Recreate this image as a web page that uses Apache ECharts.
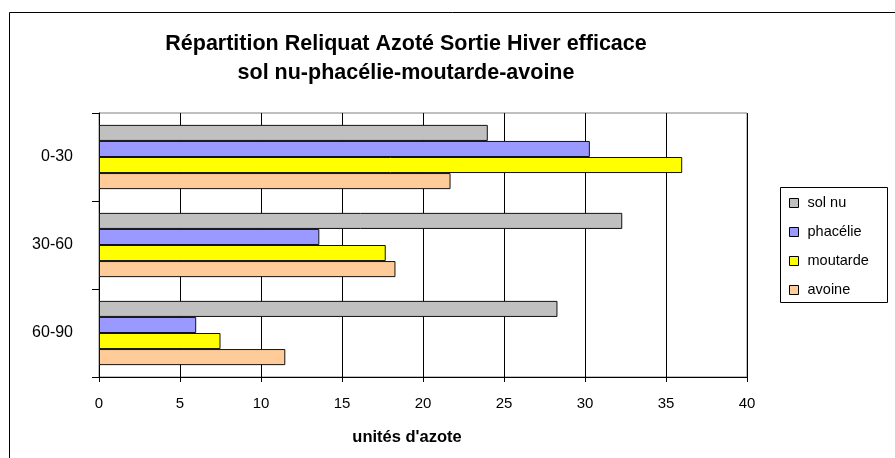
<!DOCTYPE html>
<html>
<head>
<meta charset="utf-8">
<script src="https://cdn.jsdelivr.net/npm/echarts@6/dist/echarts.min.js"></script>
<style>
  html, body { margin: 0; padding: 0; background: #fff; }
  #chart { width: 895px; height: 458px; }
</style>
</head>
<body>
<div id="chart"></div>
<script>
// profondeurs (cm)
const depths = ["0-30", "30-60", "60-90"];
// valeurs
const solNu = [24.0, 32.3, 28.3];
const phacelie = [30.3, 13.6, 6.0];
const moutarde = [36.0, 17.7, 7.5];
const avoine = [21.7, 18.3, 11.5];
const seriesNames = ["sol nu", "phacélie", "moutarde", "avoine"];
const xTicks = [0, 40, 5]; // min, max, interval

const colors = ["#C0C0C0", "#9999FF", "#FFFF00", "#FFCC99"];
const font = "'Liberation Sans', Arial, sans-serif";

const chart = echarts.init(document.getElementById("chart"));

const makeBar = (name, data, i) => ({
  name: name,
  type: "bar",
  data: data,
  barGap: "0%",
  barCategoryGap: "27%",
  itemStyle: { color: colors[i], borderColor: "#111", borderWidth: 1 },
  emphasis: { disabled: true }
});

chart.setOption({
  animation: false,
  textStyle: { fontFamily: font },
  title: {
    text: "Répartition Reliquat Azoté Sortie Hiver efficace\nsol nu-phacélie-moutarde-avoine",
    left: 406,
    top: 30,
    padding: 0,
    textAlign: "center",
    textStyle: { fontFamily: font, fontSize: 21.5, fontWeight: "bold", color: "#000", lineHeight: 29 }
  },
  legend: {
    orient: "vertical",
    left: 789,
    top: 195,
    padding: 0,
    itemWidth: 9,
    itemHeight: 9,
    itemGap: 13,
    icon: "rect",
    itemStyle: { borderColor: "#000", borderWidth: 1 },
    textStyle: { fontFamily: font, fontSize: 14.5, color: "#000", lineHeight: 16, padding: [0, 0, 0, 4] },
    data: seriesNames
  },
  grid: {
    left: 99,
    right: 148,
    top: 113,
    bottom: 81,
    show: true,
    borderColor: "#808080",
    borderWidth: 1
  },
  xAxis: {
    type: "value",
    min: xTicks[0],
    max: xTicks[1],
    interval: xTicks[2],
    name: "unités d'azote",
    nameLocation: "middle",
    nameGap: 52,
    nameTextStyle: { fontFamily: font, fontSize: 16.5, fontWeight: "bold", color: "#000", padding: [0, 32, 0, 0] },
    axisLine: { show: true, lineStyle: { color: "#000", width: 1 } },
    axisTick: { show: true, length: 5, lineStyle: { color: "#000" } },
    axisLabel: { fontFamily: font, fontSize: 15, color: "#000", margin: 19 },
    splitLine: { show: true, lineStyle: { color: "#000", width: 1 } }
  },
  yAxis: {
    type: "category",
    data: depths,
    inverse: true,
    axisLine: { show: true, lineStyle: { color: "#000", width: 1 } },
    axisTick: { show: true, length: 7, lineStyle: { color: "#000" } },
    axisLabel: { fontFamily: font, fontSize: 16, color: "#000", margin: 26 },
    splitLine: { show: false }
  },
  series: [
    makeBar(seriesNames[0], solNu, 0),
    makeBar(seriesNames[1], phacelie, 1),
    makeBar(seriesNames[2], moutarde, 2),
    makeBar(seriesNames[3], avoine, 3)
  ],
  graphic: [
    {
      type: "rect",
      shape: { x: 9.5, y: 12.5, width: 1000, height: 1000 },
      style: { fill: null, stroke: "#000", lineWidth: 1 },
      silent: true
    },
    {
      type: "rect",
      shape: { x: 780.5, y: 187.5, width: 107, height: 115 },
      style: { fill: null, stroke: "#000", lineWidth: 1 },
      silent: true
    }
  ]
});

window.addEventListener("resize", () => chart.resize());
</script>
</body>
</html>
